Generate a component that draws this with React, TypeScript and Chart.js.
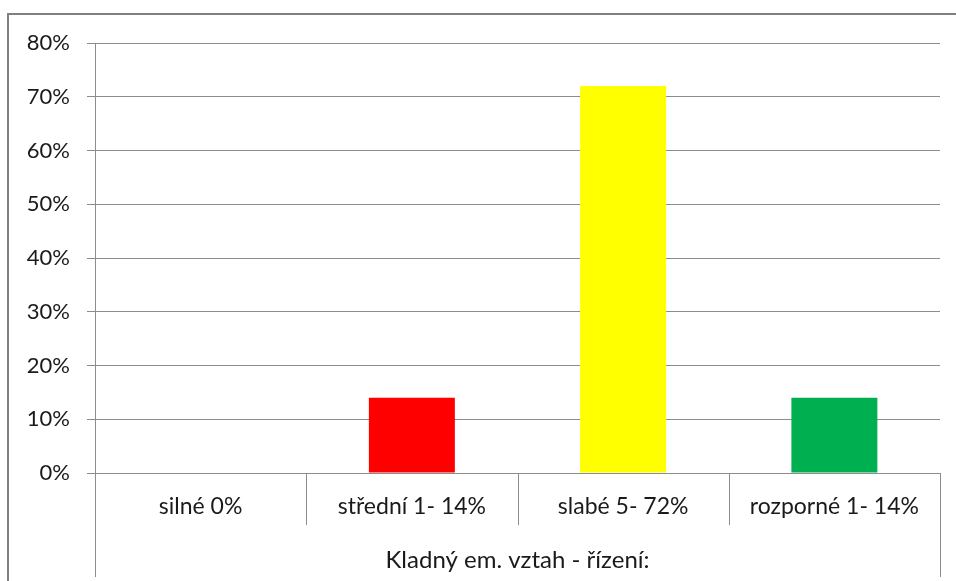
import React, { useEffect, useRef } from "react";
import { Chart, registerables } from "chart.js";

Chart.register(...registerables);

const categories = ["silné 0%", "střední 1- 14%", "slabé 5- 72%", "rozporné 1- 14%"];
const values = [0, 14, 72, 14];
const barColors = ["#FF0000", "#FF0000", "#FFFF00", "#00B050"];
const yTicks = [0, 10, 20, 30, 40, 50, 60, 70, 80];
const axisTitle = "Kladný em. vztah - řízení:";

const FONT = "Lato, 'Open Sans', sans-serif";
const LINE = "#8c8c8c";

const framePlugin = {
  id: "frame",
  beforeDraw(chart: any) {
    const { ctx, width, height } = chart;
    ctx.save();
    ctx.fillStyle = "#ffffff";
    ctx.fillRect(0, 0, width, height);
    ctx.strokeStyle = "#808080";
    ctx.lineWidth = 2;
    ctx.beginPath();
    ctx.moveTo(8, height + 2);
    ctx.lineTo(8, 14);
    ctx.lineTo(width + 2, 14);
    ctx.stroke();
    ctx.restore();
  },
  afterDraw(chart: any) {
    const { ctx, chartArea, scales } = chart;
    const x = scales.x;
    const n = categories.length;
    const bottom = chart.height - 4;
    ctx.save();
    ctx.strokeStyle = LINE;
    ctx.lineWidth = 1;
    ctx.beginPath();
    for (let i = 0; i <= n; i++) {
      const px = Math.round(x.getPixelForValue(i - 0.5)) + 0.5;
      ctx.moveTo(px, chartArea.bottom);
      ctx.lineTo(px, i === 0 || i === n ? bottom : chartArea.bottom + 52);
    }
    ctx.stroke();
    ctx.restore();
  },
};

export default function App() {
  const ref = useRef<HTMLCanvasElement>(null);
  useEffect(() => {
    document.body.style.margin = "0";
    const chart = new Chart(ref.current!, {
      type: "bar",
      data: {
        labels: categories,
        datasets: [
          {
            data: values,
            backgroundColor: barColors,
            borderWidth: 0,
            barPercentage: 0.407,
            categoryPercentage: 1,
          },
        ],
      },
      plugins: [framePlugin],
      options: {
        animation: false,
        responsive: false,
        maintainAspectRatio: false,
        layout: { padding: { top: 43, right: 16, left: 0, bottom: 0 } },
        plugins: { legend: { display: false }, tooltip: { enabled: false } },
        scales: {
          x: {
            grid: { display: false },
            border: { display: false },
            ticks: {
              color: "#1a1a1a",
              font: { family: FONT, size: 23 },
              padding: 12,
              maxRotation: 0,
            },
            title: {
              display: true,
              text: axisTitle,
              color: "#1a1a1a",
              font: { family: FONT, size: 24 },
              padding: { top: 0, bottom: 6 },
            },
            afterFit(scale: any) {
              scale.height = 108;
            },
          },
          y: {
            min: 0,
            max: 80,
            afterBuildTicks(scale: any) {
              scale.ticks = yTicks.map((v) => ({ value: v }));
            },
            grid: { color: LINE, tickLength: 8, drawTicks: true },
            border: { display: true, color: LINE, width: 1 },
            ticks: {
              color: "#1a1a1a",
              font: { family: FONT, size: 22 },
              padding: 17,
              callback: (v: any) => v + "%",
            },
            afterFit(scale: any) {
              scale.width = 95;
            },
          },
        },
      },
    });
    return () => chart.destroy();
  }, []);
  return <canvas ref={ref} width={956} height={581} style={{ display: "block" }} />;
}
